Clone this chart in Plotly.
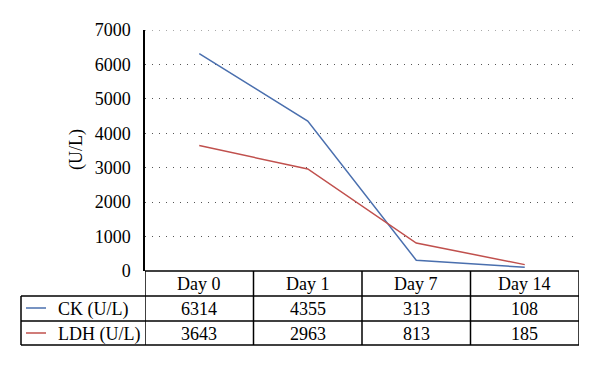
import plotly.graph_objects as go

categories = ["Day 0", "Day 1", "Day 7", "Day 14"]
ck_values = [6314, 4355, 313, 108]
ldh_values = [3643, 2963, 813, 185]
series_names = ["CK (U/L)", "LDH (U/L)"]
series_colors = ["#4a6fae", "#c0504d"]
y_ticks = [0, 1000, 2000, 3000, 4000, 5000, 6000, 7000]
y_max = 7000

FONT = "'Liberation Serif', 'DejaVu Serif', serif"
FS = 18

OFF = 8  # page body margin
W, H = 600 - OFF, 368 - OFF
L, R, T, B = 145 - OFF, 600 - 579, 30 - OFF, 368 - 271
pw, ph = W - L - R, H - T - B

fig = go.Figure()
xs = list(range(len(categories)))
for name, vals, col in zip(series_names, [ck_values, ldh_values], series_colors):
    fig.add_trace(go.Scatter(x=xs, y=vals, mode="lines", name=name,
                             line=dict(color=col, width=1.5), showlegend=False))

def py(pix):  # picture pixel y -> paper y
    return (H - B - (pix - OFF)) / ph

def px(pix):  # picture pixel x -> paper x
    return (pix - OFF - L) / pw

shapes = []
# top gridline (at range edge)
shapes.append(dict(type="line", xref="paper", yref="y", x0=0, x1=1.01, y0=y_max, y1=y_max,
                   line=dict(color="#555555", width=1, dash="1px,6px"), layer="below"))
row_tops = [271, 296, 321, 345]
shapes.append(dict(type="line", xref="paper", yref="paper", x0=0, x1=1,
                   y0=py(271), y1=py(271), line=dict(color="black", width=1.5)))
for yy in row_tops[1:]:
    shapes.append(dict(type="line", xref="paper", yref="paper", x0=px(21), x1=1,
                       y0=py(yy), y1=py(yy), line=dict(color="black", width=1.5)))
for i in range(len(categories) + 1):
    shapes.append(dict(type="line", xref="x", yref="paper", x0=i - 0.5, x1=i - 0.5,
                       y0=py(271), y1=py(345), line=dict(color="black", width=1.5)))
shapes.append(dict(type="line", xref="paper", yref="paper", x0=px(21), x1=px(21),
                   y0=py(296), y1=py(345), line=dict(color="black", width=1.5)))

annotations = []
row_centers = [309, 334]
for r, (name, vals, col) in enumerate(zip(series_names, [ck_values, ldh_values], series_colors)):
    yc = py(row_centers[r])
    shapes.append(dict(type="line", xref="paper", yref="paper", x0=px(26), x1=px(46),
                       y0=py(row_centers[r] - 1), y1=py(row_centers[r] - 1),
                       line=dict(color=col, width=1.5)))
    annotations.append(dict(xref="paper", yref="paper", x=px(56), y=yc, text=name,
                            showarrow=False, xanchor="left", yanchor="middle",
                            font=dict(family=FONT, size=FS, color="black")))
    for i, v in enumerate(vals):
        annotations.append(dict(xref="x", yref="paper", x=i, y=yc, text=str(v),
                                showarrow=False, xanchor="center", yanchor="middle",
                                font=dict(family=FONT, size=FS, color="black")))
for i, c in enumerate(categories):
    annotations.append(dict(xref="x", yref="paper", x=i, y=py(284), text=c,
                            showarrow=False, xanchor="center", yanchor="middle",
                            font=dict(family=FONT, size=FS, color="black")))
annotations.append(dict(xref="paper", yref="paper", x=px(76), y=py(150), text="(U/L)",
                        textangle=-90, showarrow=False, xanchor="center", yanchor="middle",
                        font=dict(family=FONT, size=FS, color="black")))

fig.update_layout(
    width=W, height=H, margin=dict(l=L, r=R, t=T, b=B),
    paper_bgcolor="white", plot_bgcolor="white",
    font=dict(family=FONT, size=FS, color="black"),
    shapes=shapes, annotations=annotations,
    xaxis=dict(range=[-0.5, len(categories) - 0.5], showticklabels=False, showgrid=False,
               zeroline=False, showline=False, fixedrange=True),
    yaxis=dict(range=[0, y_max], tickvals=y_ticks, showgrid=True, gridcolor="#555555",
               gridwidth=1, griddash="1px,6px", zeroline=False, showline=True,
               linecolor="black", linewidth=1.5, ticks="", ticklabelstandoff=9,
               tickfont=dict(family=FONT, size=FS, color="black")),
)
fig.write_html("out.html")
